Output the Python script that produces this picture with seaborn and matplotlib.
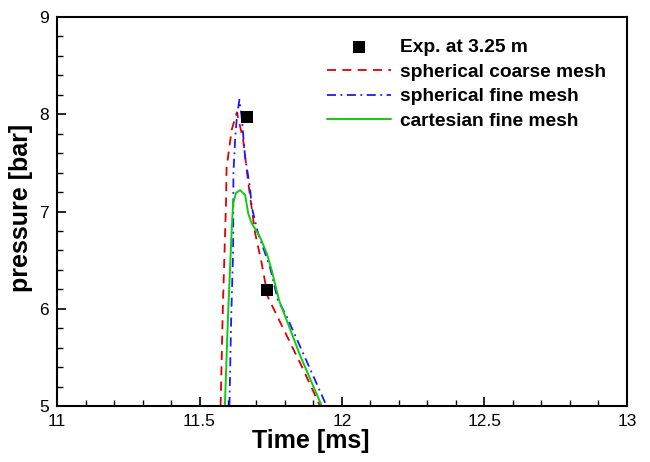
import numpy as np
import pandas as pd
import seaborn as sns
import matplotlib.pyplot as plt
from matplotlib.ticker import MultipleLocator

# --- datos ---
exp_t = [11.667, 11.737]
exp_p = [7.97, 6.19]

coarse_t = [11.574, 11.582, 11.593, 11.595, 11.613, 11.631, 11.653, 11.670,
            11.695, 11.718, 11.740, 11.800, 11.860, 11.923]
coarse_p = [5.00, 6.02, 7.09, 7.45, 7.84, 8.02, 7.74, 7.32,
            6.78, 6.47, 6.12, 5.76, 5.40, 5.00]

fine_t = [11.605, 11.611, 11.618, 11.619, 11.625, 11.631, 11.640, 11.648,
          11.660, 11.677, 11.683, 11.705, 11.747, 11.775, 11.806, 11.870, 11.946]
fine_p = [5.00, 5.88, 6.60, 7.40, 7.74, 7.97, 8.15, 7.97,
          7.56, 7.25, 7.05, 6.78, 6.43, 6.09, 5.92, 5.50, 5.00]

cart_t = [11.589, 11.600, 11.607, 11.613, 11.618, 11.628, 11.642, 11.660,
          11.671, 11.683, 11.712, 11.736, 11.753, 11.779, 11.853, 11.929]
cart_p = [5.00, 5.92, 6.40, 6.81, 7.09, 7.19, 7.22, 7.17,
          6.98, 6.88, 6.74, 6.57, 6.40, 6.09, 5.52, 5.00]

sns.set_theme(style="ticks")
plt.rcParams['font.family'] = ['Liberation Sans', 'DejaVu Sans']
plt.rcParams.update({"text.color": "black", "axes.labelcolor": "black",
                     "xtick.color": "black", "ytick.color": "black"})

fig = plt.figure(figsize=(6.5, 4.62), dpi=100)
ax = fig.add_axes([0.0877, 0.1212, 0.8769, 0.8420])

sns.lineplot(x=coarse_t, y=coarse_p, ax=ax, sort=False, color="#e00000",
             linewidth=1.3, linestyle=(0, (5, 3.5)), label="spherical coarse mesh")
sns.lineplot(x=fine_t, y=fine_p, ax=ax, sort=False, color="#1a1aff",
             linewidth=1.3, linestyle=(0, (5, 2.5, 1, 2.5)), label="spherical fine mesh")
sns.lineplot(x=cart_t, y=cart_p, ax=ax, sort=False, color="#10cc10",
             linewidth=1.4, label="cartesian fine mesh")
sns.scatterplot(x=exp_t, y=exp_p, ax=ax, marker="s", s=80, color="black",
                linewidth=0, label="Exp. at 3.25 m", zorder=5)

ax.set_xlim(11, 13)
ax.set_ylim(5, 9)
ax.xaxis.set_major_locator(MultipleLocator(0.5))
ax.xaxis.set_minor_locator(MultipleLocator(0.1))
ax.yaxis.set_major_locator(MultipleLocator(1))
ax.yaxis.set_minor_locator(MultipleLocator(0.2))
ax.set_xticks([11, 11.5, 12, 12.5, 13], ["11", "11.5", "12", "12.5", "13"])
ax.tick_params(which="major", direction="in", length=6.5, width=1.2,
               labelsize=12.5, pad=6, top=False, right=False,
               colors="black")
ax.tick_params(which="minor", direction="in", length=4, width=1.0,
               top=False, right=False, colors="black")
for s in ax.spines.values():
    s.set_linewidth(1.5)
    s.set_color("black")

ylabs = ax.get_yticklabels()
ylabs[0].set_va("bottom")

ax.set_xlabel("Time [ms]", fontsize=18, fontweight="bold", color="black")
ax.set_ylabel("pressure [bar]", fontsize=18, fontweight="bold", color="black")
ax.xaxis.set_label_coords(0.446, -0.06)
ax.yaxis.set_label_coords(-0.042, 0.51)

h, l = ax.get_legend_handles_labels()
order = [3, 0, 1, 2]
ax.legend([h[i] for i in order], [l[i] for i in order], loc="upper right",
          bbox_to_anchor=(0.977, 0.964), frameon=False,
          prop={"weight": "bold", "size": 13.8}, handlelength=3.3,
          handletextpad=0.5, labelspacing=0.38, borderaxespad=0,
          labelcolor="black")

fig.savefig("out.png", dpi=100)
